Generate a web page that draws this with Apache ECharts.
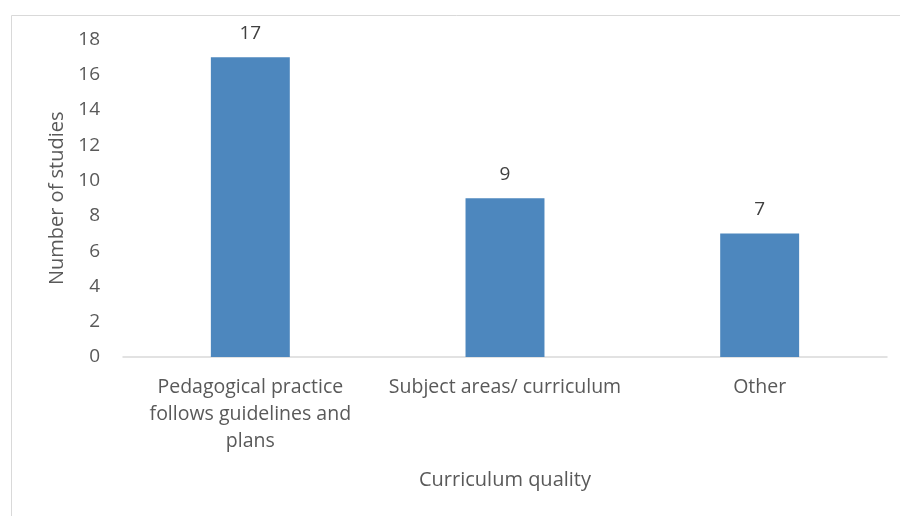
<!DOCTYPE html>
<html>
<head>
<meta charset="utf-8">
<script src="https://cdn.jsdelivr.net/npm/echarts@6/dist/echarts.min.js"></script>
<style>html,body{margin:0;padding:0;background:#fff}#c{width:900px;height:516px}</style>
</head>
<body>
<div id="c"></div>
<script>
const categories = ["Pedagogical practice\nfollows guidelines and\nplans", "Subject areas/ curriculum", "Other"];
const values = [17, 9, 7];
const yTicks = { min: 0, max: 18, interval: 2 };
const xTitle = "Curriculum quality";
const yTitle = "Number of studies";

const chart = echarts.init(document.getElementById('c'));
const font = '"Open Sans", Lato, sans-serif';
chart.setOption({
  animation: false,
  graphic: [{
    type: 'rect', shape: { x: 11.5, y: 15.5, width: 900, height: 520 },
    style: { fill: 'none', stroke: '#d9d9d9', lineWidth: 1 }, silent: true
  }],
  grid: { left: 123, right: 13, top: 39.5, bottom: 159 },
  xAxis: {
    type: 'category', data: categories,
    axisLine: { lineStyle: { color: '#d9d9d9', width: 1.5 } },
    axisTick: { show: false },
    axisLabel: { color: '#595959', fontSize: 19.5, fontFamily: font, margin: 17, lineHeight: 27, interval: 0, hideOverlap: false },
    name: xTitle, nameLocation: 'middle', nameGap: 113,
    nameTextStyle: { color: '#595959', fontSize: 20, fontFamily: font }
  },
  yAxis: {
    type: 'value', min: yTicks.min, max: yTicks.max, interval: yTicks.interval,
    splitLine: { show: false },
    axisLine: { show: false }, axisTick: { show: false },
    axisLabel: { color: '#595959', fontSize: 19, fontFamily: font, margin: 23 },
    name: yTitle, nameLocation: 'middle', nameGap: 53,
    nameTextStyle: { color: '#595959', fontSize: 20, fontFamily: font }
  },
  series: [{
    type: 'bar', data: values, barWidth: '31%',
    itemStyle: { color: '#4d87be' },
    label: { show: true, position: 'top', distance: 14, color: '#404040', fontSize: 19, fontFamily: font }
  }]
});
</script>
</body>
</html>
